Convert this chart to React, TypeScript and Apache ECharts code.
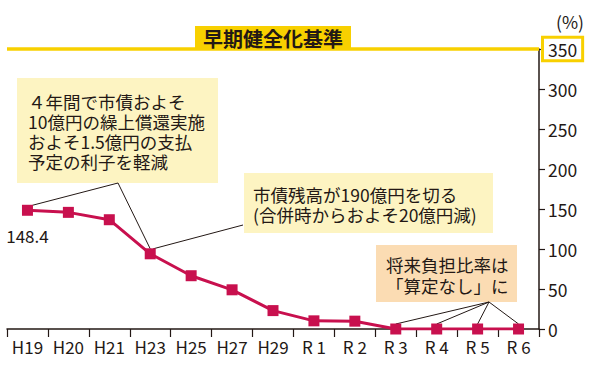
import React, { useEffect, useRef } from "react";
import * as echarts from "echarts";

const categories = ["H19", "H20", "H21", "H23", "H25", "H27", "H29", "R 1", "R 2", "R 3", "R 4", "R 5", "R 6"];
const ratios = [148.4, 145.8, 136.6, 94, 66.6, 49, 23, 10.2, 9.8, 0, 0, 0, 0];
const yMin = 0;
const yMax = 350;
const yStep = 50;
const benchmarkValue = 350;
const benchmarkLabel = "早期健全化基準";
const unitLabel = "(%)";
const note1 = ["４年間で市債およそ", "10億円の繰上償還実施", "およそ1.5億円の支払", "予定の利子を軽減"];
const note2 = ["市債残高が190億円を切る", "(合併時からおよそ20億円減)"];
const note3 = ["将来負担比率は", "「算定なし」に"];

const FONT = '"Noto Sans CJK JP", "Noto Sans", sans-serif';
const INK = "#231815";
const CRIMSON = "#c8104e";
const YELLOW = "#f8d000";

export default function App() {
  const ref = useRef<HTMLDivElement>(null);
  useEffect(() => {
    if (!ref.current) return;
    const chart = echarts.init(ref.current, undefined, { renderer: "svg" });
    chart.setOption({
      animation: false,
      grid: { left: 7, right: 59, top: 49, bottom: 37, containLabel: false },
      xAxis: {
        type: "category",
        data: categories,
        boundaryGap: true,
        axisLine: { lineStyle: { color: INK, width: 1.5 } },
        axisTick: { show: true, length: 8, lineStyle: { color: INK, width: 1.2 } },
        axisLabel: { color: INK, fontSize: 17, fontFamily: FONT, margin: 9, interval: 0 },
      },
      yAxis: {
        type: "value",
        position: "right",
        min: yMin,
        max: yMax,
        interval: yStep,
        splitLine: { show: false },
        axisLine: { show: true, lineStyle: { color: INK, width: 1.5 } },
        axisTick: { show: true, length: 6, lineStyle: { color: INK, width: 1.2 } },
        axisLabel: {
          margin: 5,
          formatter: (v: number) => (v === benchmarkValue ? `{b|${v}}` : `{n|${v}}`),
          rich: {
            b: {
              color: INK, fontSize: 17.5, fontFamily: FONT,
              borderColor: YELLOW, borderWidth: 3, padding: [2, 4, 1, 4], backgroundColor: "#fff",
            },
            n: {
              color: INK, fontSize: 17.5, fontFamily: FONT,
              borderColor: "transparent", borderWidth: 3, padding: [2, 4, 1, 4],
            },
          },
        },
      },
      series: [
        {
          type: "line",
          data: ratios.map((v, i) =>
            i === 0
              ? { value: v, label: { show: true, position: "bottom", distance: 11, color: INK, fontSize: 17, fontFamily: FONT } }
              : v
          ),
          symbol: "rect",
          symbolSize: 11,
          itemStyle: { color: CRIMSON },
          lineStyle: { color: CRIMSON, width: 3 },
          z: 5,
          markLine: {
            silent: true,
            symbol: ["none", "none"],
            lineStyle: { color: YELLOW, width: 3.5, type: "solid" },
            label: {
              show: true,
              position: "insideMiddleTop",
              distance: 0,
              formatter: benchmarkLabel,
              color: INK,
              fontSize: 20,
              fontWeight: "bold",
              fontFamily: FONT,
              backgroundColor: YELLOW,
              padding: [2, 8, 1, 8],
            },
            data: [{ yAxis: benchmarkValue }],
          },
        },
      ],
    });

    const px = (i: number) => chart.convertToPixel({ seriesIndex: 0 }, [i, ratios[i]]) as number[];
    const p19 = px(0);
    const p23 = px(3);
    const lineStyle = { stroke: INK, lineWidth: 1, fill: "none" };
    const lines = (arr: string[], x: number, y0: number, lh: number) =>
      arr.map((t, k) => ({
        type: "text",
        x,
        y: y0 + k * lh,
        style: { text: t, fill: INK, fontSize: 17.5, fontFamily: FONT, verticalAlign: "middle", align: "left" },
      }));
    const graphics: any[] = [
      { type: "text", x: 556, y: 13, style: { text: unitLabel, fill: INK, fontSize: 17.5, fontFamily: FONT } },
      { type: "rect", shape: { x: 17, y: 78, width: 201, height: 105 }, style: { fill: "#fdf4c2" } },
      ...lines(note1, 28, 101, 20),
      { type: "rect", shape: { x: 244, y: 173, width: 249, height: 60 }, style: { fill: "#fdf4c2" } },
      ...lines(note2, 253, 194, 20),
      { type: "rect", shape: { x: 376, y: 245, width: 141, height: 57 }, style: { fill: "#fbdcb3" } },
      ...lines(note3, 386, 264, 21),
      {
        type: "polyline",
        shape: { points: [[p19[0] + 5, p19[1] - 5], [118, 183], [p23[0], p23[1] - 5]] },
        style: lineStyle,
      },
      { type: "line", shape: { x1: p23[0] + 3, y1: p23[1] - 5, x2: 243, y2: 225 }, style: lineStyle },
    ];
    for (let i = 9; i <= 12; i++) {
      const p = px(i);
      graphics.push({ type: "line", shape: { x1: 489, y1: 302, x2: p[0], y2: p[1] - 5 }, style: lineStyle });
    }
    chart.setOption({ graphic: graphics });
    return () => chart.dispose();
  }, []);
  return <div ref={ref} style={{ width: 598, height: 366, position: "absolute", left: 0, top: 0 }} />;
}
